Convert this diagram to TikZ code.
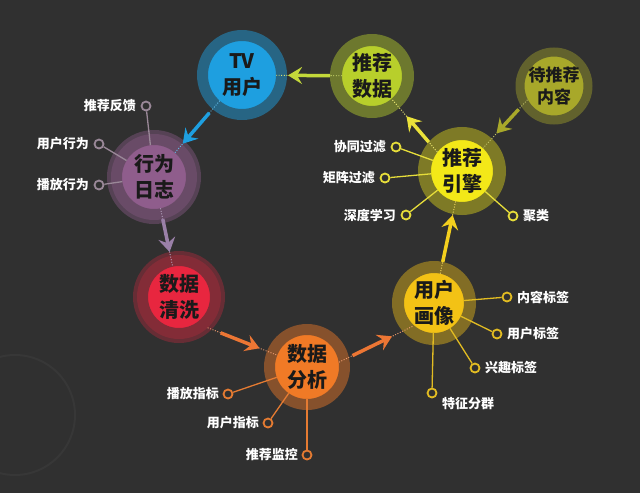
\documentclass[tikz,border=0pt]{standalone}
\usepackage{fontspec}
\setmainfont{Noto Sans CJK SC}
\usetikzlibrary{arrows.meta}
\definecolor{bgc}{HTML}{303030}
\definecolor{decoc}{HTML}{373737}
\definecolor{hubtext}{HTML}{1A1A1A}
\definecolor{tvc}{HTML}{1E9FE0}
\definecolor{datac}{HTML}{B8CF2B}
\definecolor{pendc}{HTML}{A8A82A}
\definecolor{logc}{HTML}{8F5D8C}
\definecolor{engc}{HTML}{F3E818}
\definecolor{cleanc}{HTML}{E8263F}
\definecolor{anac}{HTML}{F07A26}
\definecolor{portc}{HTML}{F3C215}
\definecolor{logline}{HTML}{9A8898}
\definecolor{engline}{HTML}{E6DD3A}
\definecolor{analine}{HTML}{E57B32}
\definecolor{portline}{HTML}{E2BC22}
\definecolor{purplearrow}{HTML}{9A80A8}
\definecolor{orangearrow}{HTML}{EC7634}
\definecolor{goldarrow}{HTML}{F3CF1E}
\definecolor{yellowarrow}{HTML}{EAE23A}
\definecolor{datarrow}{HTML}{C3D83A}
\pgfdeclarelayer{bglayer}
\pgfsetlayers{bglayer,main}
\tikzset{
  hub/.style={circle, inner sep=0pt, align=center, text=hubtext,
    font=\fontsize{20}{26}\selectfont\bfseries},
  lc/.style={circle, draw, line width=1.8pt, minimum size=9pt, inner sep=0pt, fill=bgc},
  lt/.style={text=white, font=\fontsize{13}{15}\selectfont\bfseries, inner sep=0pt},
  lconn/.style={line width=1.3pt},
  arr/.style={line width=3.5pt, -{Stealth[length=14pt,width=17pt,inset=5pt]}},
  dotl/.style={line width=0.9pt, dash pattern=on 1pt off 1.6pt},
}
\begin{document}
\begin{tikzpicture}[x=1pt,y=-1pt]
\useasboundingbox (0,0) rectangle (640,493);
\begin{pgfonlayer}{bglayer}
\fill[bgc] (0,0) rectangle (640,493);
\begin{scope}
\clip (0,0) rectangle (640,493);
\draw[decoc, line width=2pt] (15,415) circle[radius=60];
\end{scope}
\end{pgfonlayer}

% hubs
\node[hub, fill=tvc, draw=tvc!48!bgc, line width=11pt, minimum size=79pt] (tv) at (242,75) {TV\\用户};
\node[hub, fill=datac, draw=datac!45!bgc, line width=12pt, minimum size=72pt] (data) at (372,76) {推荐\\数据};
\node[hub, fill=pendc, draw=pendc!42!bgc, line width=9pt, minimum size=68pt,
  font=\fontsize{17}{22}\selectfont\bfseries] (pend) at (554,86) {待推荐\\内容};
\node[hub, fill=logc, draw=logc!60!bgc, line width=11pt, minimum size=75pt,
  preaction={draw=logc!40!bgc, line width=19pt}] (log) at (154,177) {行为\\日志};
\node[hub, fill=engc, draw=engc!40!bgc, line width=13pt, minimum size=75pt] (eng) at (462,171) {推荐\\引擎};
\node[hub, fill=cleanc, draw=cleanc!45!bgc, line width=11pt, minimum size=73pt,
  preaction={draw=cleanc!30!bgc, line width=19pt}] (clean) at (179,297) {数据\\清洗};
\node[hub, fill=anac, draw=anac!45!bgc, line width=11pt, minimum size=75pt] (ana) at (307,367) {数据\\分析};
\node[hub, fill=portc, draw=portc!42!bgc, line width=12pt, minimum size=72pt] (port) at (434,303) {用户\\画像};

% label circles and texts
\node[lc, draw=logline] (kfk) at (146,106) {};
\node[lt, anchor=east] (tfk) at (136,106) {推荐反馈};
\node[lc, draw=logline] (kyh) at (99,144) {};
\node[lt, anchor=east] (tyh) at (89,144) {用户行为};
\node[lc, draw=logline] (kbf) at (99,185) {};
\node[lt, anchor=east] (tbf) at (89,185) {播放行为};

\node[lc, draw=engline] (kxt) at (396,147) {};
\node[lt, anchor=east] (txt) at (386,147) {协同过滤};
\node[lc, draw=engline] (kjz) at (385,178) {};
\node[lt, anchor=east] (tjz) at (375,178) {矩阵过滤};
\node[lc, draw=engline] (ksd) at (406,215) {};
\node[lt, anchor=east] (tsd) at (396,215) {深度学习};
\node[lc, draw=engline] (kjl) at (513,216) {};
\node[lt, anchor=west] (tjl) at (523,216) {聚类};

\node[lc, draw=portline] (knr) at (507,297) {};
\node[lt, anchor=west] (tnr) at (517,297) {内容标签};
\node[lc, draw=portline] (kyb) at (497,334) {};
\node[lt, anchor=west] (tyb) at (507,334) {用户标签};
\node[lc, draw=portline] (kxq) at (475,368) {};
\node[lt, anchor=west] (txq) at (485,368) {兴趣标签};
\node[lc, draw=portline] (ktz) at (432,393) {};
\node[lt, anchor=west] (ttz) at (442,404) {特征分群};

\node[lc, draw=analine] (kbz) at (228,394) {};
\node[lt, anchor=east] (tbz) at (219,394) {播放指标};
\node[lc, draw=analine] (kyz) at (268,423) {};
\node[lt, anchor=east] (tyz) at (259,423) {用户指标};
\node[lc, draw=analine] (kjk) at (307,455) {};
\node[lt, anchor=east] (tjk) at (298,455) {推荐监控};

% label connectors
\draw[lconn, logline, shorten >=-11pt] (kfk) -- (log);
\draw[lconn, logline, shorten >=-11pt] (kyh) -- (log);
\draw[lconn, logline, shorten >=-11pt] (kbf) -- (log);
\draw[lconn, engline, shorten >=-13pt] (kxt) -- (eng);
\draw[lconn, engline, shorten >=-13pt] (kjz) -- (eng);
\draw[lconn, engline, shorten >=-13pt] (ksd) -- (eng);
\draw[lconn, engline, shorten >=-13pt] (kjl) -- (eng);
\draw[lconn, portline, shorten >=-12pt] (knr) -- (port);
\draw[lconn, portline, shorten >=-12pt] (kyb) -- (port);
\draw[lconn, portline, shorten >=-12pt] (kxq) -- (port);
\draw[lconn, portline, shorten >=-12pt] (ktz) -- (port);
\draw[lconn, analine, shorten >=-11pt] (kbz) -- (ana);
\draw[lconn, analine, shorten >=-11pt] (kyz) -- (ana);
\draw[lconn, analine, shorten >=-11pt] (kjk) -- (ana);

% dotted guides through rings
\draw[dotl, datarrow!70!white, shorten <=-12pt, shorten >=-11pt] (data) -- (tv);
\draw[dotl, tvc!70!white, shorten <=-11pt, shorten >=-11pt] (tv) -- (log);
\draw[dotl, purplearrow!70!white, shorten <=-11pt, shorten >=-11pt] (log) -- (clean);
\draw[dotl, orangearrow!70!white, shorten >=-11pt] (clean.-47) -- (ana);
\draw[dotl, orangearrow!70!white, shorten <=-11pt, shorten >=-12pt] (ana.13) -- (port.222);
\draw[dotl, goldarrow!70!white, shorten <=-12pt, shorten >=-13pt] (port) -- (eng);
\draw[dotl, yellowarrow!70!white, shorten <=-13pt, shorten >=-12pt] (eng.139) -- (data);
\draw[dotl, pendc!70!white, shorten <=-9pt, shorten >=-13pt] (pend.212) -- (eng);

% flow arrows
\draw[arr, datarrow, shorten >=1pt] (data) -- (tv);
\draw[arr, tvc, shorten <=5pt, shorten >=1pt] (tv) -- (log);
\draw[arr, purplearrow, shorten >=4pt] (log) -- (clean);
\draw[arr, orangearrow, shorten <=14pt, shorten >=8pt] (clean.-47) -- (ana);
\draw[arr, orangearrow, shorten <=4pt, shorten >=12pt] (ana.13) -- (port.222);
\draw[arr, goldarrow, shorten >=1pt] (port) -- (eng);
\draw[arr, yellowarrow, shorten >=11pt] (eng.139) -- (data);
\draw[arr, pendc, shorten <=4pt, shorten >=7pt] (pend.212) -- (eng);
\end{tikzpicture}
\end{document}
